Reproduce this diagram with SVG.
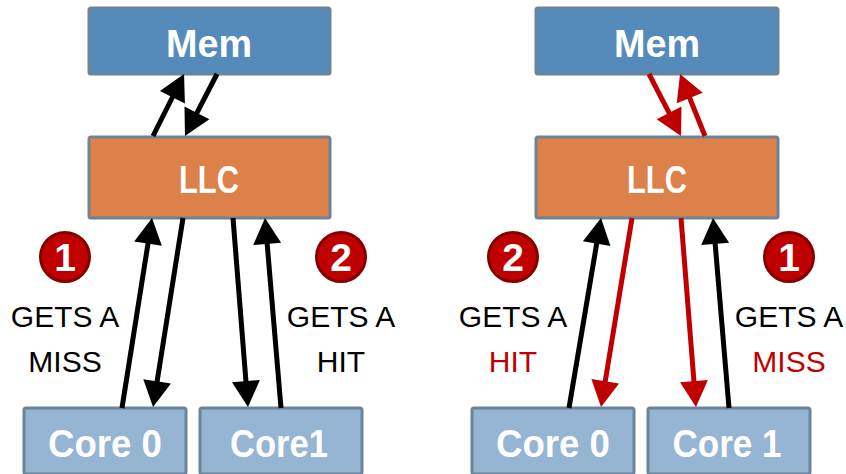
<svg xmlns="http://www.w3.org/2000/svg" width="846" height="474" viewBox="0 0 846 474">
  <style>
    .box { stroke: #6b8499; stroke-width: 3; }
    .mem { fill: #558bba; }
    .llc { fill: #dd8049; }
    .core { fill: #95b5d3; }
    .label { font-family: "Liberation Sans", Arial, sans-serif; font-weight: bold; font-size: 38px; fill: #ffffff; text-anchor: middle; }
    .note { font-family: "Liberation Sans", Arial, sans-serif; font-size: 30px; fill: #000000; text-anchor: middle; }
    .red { fill: #c00000; }
    .badge { fill: #c00000; stroke: #870000; stroke-width: 3; }
    .num { font-family: "Liberation Sans", Arial, sans-serif; font-weight: bold; font-size: 39px; fill: #ffffff; text-anchor: middle; }
    .blk { stroke: #000000; stroke-width: 5; fill: none; marker-end: url(#headBlack); }
    .rd { stroke: #c00000; stroke-width: 5; fill: none; marker-end: url(#headRed); }
  </style>
  <defs>
    <marker id="headBlack" markerUnits="userSpaceOnUse" viewBox="0 -14 26 28" markerWidth="26" markerHeight="28" refX="2" refY="0" orient="auto" overflow="visible">
      <path d="M0,-14 L26,0 L0,14 z" fill="#000000"/>
    </marker>
    <marker id="headRed" markerUnits="userSpaceOnUse" viewBox="0 -14 26 28" markerWidth="26" markerHeight="28" refX="2" refY="0" orient="auto" overflow="visible">
      <path d="M0,-14 L26,0 L0,14 z" fill="#c00000"/>
    </marker>
  </defs>

  <rect width="846" height="474" fill="#ffffff"/>

  <!-- left system: Core 0 misses, Core1 hits -->
  <g id="mem-left">
    <rect class="box mem" x="89" y="8" width="241" height="66" rx="2"/>
    <text class="label" x="209" y="57" textLength="86" lengthAdjust="spacingAndGlyphs">Mem</text>
  </g>
  <g id="llc-left">
    <rect class="box llc" x="89" y="137" width="241" height="81" rx="2"/>
    <text class="label" x="209" y="193" textLength="60" lengthAdjust="spacingAndGlyphs">LLC</text>
  </g>
  <g id="core0-left">
    <rect class="box core" x="24" y="408" width="162" height="66" rx="2"/>
    <text class="label" x="105" y="457" textLength="114" lengthAdjust="spacingAndGlyphs">Core 0</text>
  </g>
  <g id="core1-left">
    <rect class="box core" x="200" y="408" width="162" height="66" rx="2"/>
    <text class="label" x="279" y="457" textLength="98" lengthAdjust="spacingAndGlyphs">Core1</text>
  </g>

  <!-- right system: Core 1 misses, Core 0 hits -->
  <g id="mem-right">
    <rect class="box mem" x="536" y="8" width="242" height="66" rx="2"/>
    <text class="label" x="657" y="57" textLength="86" lengthAdjust="spacingAndGlyphs">Mem</text>
  </g>
  <g id="llc-right">
    <rect class="box llc" x="536" y="137" width="242" height="81" rx="2"/>
    <text class="label" x="657" y="193" textLength="60" lengthAdjust="spacingAndGlyphs">LLC</text>
  </g>
  <g id="core0-right">
    <rect class="box core" x="472" y="408" width="162" height="66" rx="2"/>
    <text class="label" x="553" y="457" textLength="114" lengthAdjust="spacingAndGlyphs">Core 0</text>
  </g>
  <g id="core1-right">
    <rect class="box core" x="648" y="408" width="162" height="66" rx="2"/>
    <text class="label" x="727" y="457" textLength="109" lengthAdjust="spacingAndGlyphs">Core 1</text>
  </g>

  <g id="connectors">
    <!-- left -->
    <line class="blk" x1="153" y1="136" x2="173.3" y2="95.5"/>
    <line class="blk" x1="217" y1="74" x2="196" y2="114.7"/>
    <line class="blk" x1="122" y1="408" x2="148.3" y2="241.7"/>
    <line class="blk" x1="183" y1="218" x2="156.8" y2="383.3"/>
    <line class="blk" x1="233" y1="218" x2="246.1" y2="383.1"/>
    <line class="blk" x1="281" y1="408" x2="267" y2="241.9"/>
    <!-- right -->
    <line class="rd" x1="649" y1="74" x2="670" y2="114.7"/>
    <line class="rd" x1="705" y1="136" x2="689" y2="96.2"/>
    <line class="blk" x1="569" y1="408" x2="597" y2="241.7"/>
    <line class="rd" x1="632" y1="218" x2="604.9" y2="383.3"/>
    <line class="rd" x1="681" y1="218" x2="694.1" y2="383.1"/>
    <line class="blk" x1="729" y1="408" x2="715" y2="241.9"/>
  </g>

  <!-- step badges -->
  <g id="badge-left-1">
    <circle class="badge" cx="65" cy="257" r="24.5"/>
    <text class="num" x="65" y="271">1</text>
  </g>
  <g id="badge-left-2">
    <circle class="badge" cx="341" cy="257" r="24.5"/>
    <text class="num" x="341" y="271">2</text>
  </g>
  <g id="badge-right-2">
    <circle class="badge" cx="513" cy="257" r="24.5"/>
    <text class="num" x="513" y="271">2</text>
  </g>
  <g id="badge-right-1">
    <circle class="badge" cx="789" cy="257" r="24.5"/>
    <text class="num" x="789" y="271">1</text>
  </g>

  <!-- captions -->
  <g id="captions">
    <text class="note" x="65" y="327">GETS A</text>
    <text class="note" x="65" y="372">MISS</text>
    <text class="note" x="341" y="327">GETS A</text>
    <text class="note" x="341" y="372">HIT</text>
    <text class="note" x="513" y="327">GETS A</text>
    <text class="note red" x="513" y="372">HIT</text>
    <text class="note" x="789" y="327">GETS A</text>
    <text class="note red" x="789" y="372">MISS</text>
  </g>
</svg>
